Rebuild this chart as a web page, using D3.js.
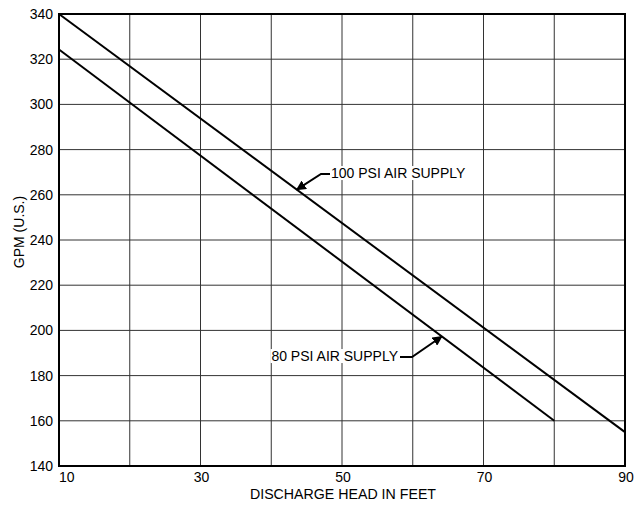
<!DOCTYPE html>
<html>
<head>
<meta charset="utf-8">
<script src="https://cdn.jsdelivr.net/npm/d3@7"></script>
<style>
  body { margin: 0; background: #fff; }
  text { font-family: "Liberation Sans", Arial, sans-serif; fill: #000; }
</style>
</head>
<body>
<div id="chart"></div>
<script>
var vWidth = 636;
var vHeight = 511;
var margin = { top: 14, right: 11, bottom: 45, left: 59 };

// Data
var headFeet = [10, 90];
var gpm100 = [340, 155];
var headFeet80 = [10, 80];
var gpm80 = [324.3, 160];
var xTicks = [10, 20, 30, 40, 50, 60, 70, 80, 90];
var xTickLabels = [10, 30, 50, 70, 90];
var yTicks = [140, 160, 180, 200, 220, 240, 260, 280, 300, 320, 340];

var w = vWidth - margin.left - margin.right;
var h = vHeight - margin.top - margin.bottom;

var svg = d3.select("#chart")
    .append("svg")
        .attr("width", vWidth)
        .attr("height", vHeight);

var g = svg.append("g")
    .attr("transform", "translate(" + margin.left + "," + margin.top + ")");

var x = d3.scaleLinear().domain([10, 90]).range([0, w]);
var y = d3.scaleLinear().domain([140, 340]).range([h, 0]);

// grid
g.selectAll(".vgrid")
    .data(xTicks.slice(1, -1))
    .enter().append("line")
        .attr("x1", function (d) { return x(d); })
        .attr("x2", function (d) { return x(d); })
        .attr("y1", 0).attr("y2", h)
        .style("stroke", "#333")
        .style("stroke-width", 1);

g.selectAll(".hgrid")
    .data(yTicks.slice(1, -1))
    .enter().append("line")
        .attr("x1", 0).attr("x2", w)
        .attr("y1", function (d) { return y(d); })
        .attr("y2", function (d) { return y(d); })
        .style("stroke", "#333")
        .style("stroke-width", 1);

// frame
g.append("rect")
    .attr("width", w).attr("height", h)
    .style("fill", "none")
    .style("stroke", "#000")
    .style("stroke-width", 2);

// y tick labels
g.selectAll(".ylab")
    .data(yTicks)
    .enter().append("text")
        .attr("x", -6)
        .attr("y", function (d) { return y(d); })
        .attr("dy", "0.36em")
        .attr("text-anchor", "end")
        .style("font-size", "14px")
        .text(function (d) { return d; });

// x tick labels
g.selectAll(".xlab")
    .data(xTickLabels)
    .enter().append("text")
        .attr("x", function (d) { return d === 10 ? x(d) : x(d) + 1; })
        .attr("y", h + 16)
        .attr("text-anchor", function (d) { return d === 10 ? "start" : "middle"; })
        .style("font-size", "14px")
        .text(function (d) { return d; });

// axis titles
g.append("text")
    .attr("x", w / 2 + 1)
    .attr("y", h + 33)
    .attr("text-anchor", "middle")
    .style("font-size", "14.2px")
    .text("DISCHARGE HEAD IN FEET");

g.append("text")
    .attr("transform", "translate(" + (-35) + "," + (h / 2 - 8) + ") rotate(-90)")
    .attr("text-anchor", "middle")
    .style("font-size", "14px")
    .text("GPM (U.S.)");

// data lines
var line = d3.line()
    .x(function (d) { return x(d[0]); })
    .y(function (d) { return y(d[1]); });

g.append("path")
    .datum(d3.zip(headFeet, gpm100))
    .attr("d", line)
    .style("fill", "none")
    .style("stroke", "#000")
    .style("stroke-width", 2);

g.append("path")
    .datum(d3.zip(headFeet80, gpm80))
    .attr("d", line)
    .style("fill", "none")
    .style("stroke", "#000")
    .style("stroke-width", 2);

// annotations
svg.append("defs").append("marker")
    .attr("id", "arrow")
    .attr("viewBox", "0 0 10 10")
    .attr("refX", 9).attr("refY", 5)
    .attr("markerWidth", 5).attr("markerHeight", 5)
    .attr("orient", "auto")
    .append("path")
        .attr("d", "M0,0L10,5L0,10z")
        .style("fill", "#000");

function valueAt(xs, ys, hx) {
    return d3.scaleLinear().domain(xs).range(ys)(hx);
}

function annotate(label, tipX, xs, ys, textX, textY, anchor, elbowX) {
    var tx = x(tipX), ty = y(valueAt(xs, ys, tipX));
    var txt = g.append("text")
        .attr("x", textX)
        .attr("y", textY)
        .attr("dy", "0.36em")
        .attr("text-anchor", anchor)
        .style("font-size", "14px")
        .text(label);
    var bb = txt.node().getBBox();
    g.append("rect")
        .attr("x", bb.x - 1).attr("y", bb.y + 1)
        .attr("width", bb.width + 2).attr("height", bb.height - 2)
        .style("fill", "#fff");
    txt.raise();
    var startX = anchor === "start" ? textX - 1 : textX + 2;
    g.append("path")
        .attr("d", "M" + startX + "," + (textY + 1) + "L" + elbowX + "," + (textY + 1) + "L" + tx + "," + ty)
        .style("fill", "none")
        .style("stroke", "#000")
        .style("stroke-width", 2)
        .attr("marker-end", "url(#arrow)");
}

annotate("100 PSI AIR SUPPLY", 43.6, headFeet, gpm100, 272, 159, "start", 262);
annotate("80 PSI AIR SUPPLY", 64.1, headFeet80, gpm80, 339, 342, "end", 353);
</script>
</body>
</html>
